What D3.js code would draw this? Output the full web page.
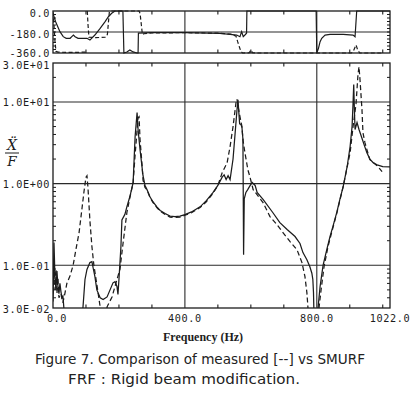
<!DOCTYPE html>
<html><head><meta charset="utf-8">
<script src="https://cdn.jsdelivr.net/npm/d3@7"></script>
<style>body{margin:0;background:#fff} svg{display:block}</style>
</head><body>
<svg id="c" width="418" height="399"></svg>
<script>
// ---------- data ----------
const freqLabelValues = [0, 400, 800, 1022];
const freqLabels = ["0.0", "400.0", "800.0", "1022.0"];
const freqGrid = [400, 800];
const freqMinor = [100, 200, 300, 500, 600, 700, 900, 1000];
const magLabelValues = [30, 10, 1, 0.1, 0.03];
const magLabels = ["3.0E+01", "1.0E+01", "1.0E+00", "1.0E-01", "3.0E-02"];
const magGrid = [10, 1, 0.1];
const phaseLabelValues = [0, -180, -360];
const phaseLabels = ["0.0", "-180.0", "-360.0"];
const phaseGrid = [-180];

// SMURF (solid) magnitude [Hz, |X''/F|]
const smurfMag = [[0,0.036],[3,0.19],[6,0.07],[9,0.05],[12,0.085],[15,0.055],[18,0.045],[21,0.06],[24,0.048],[27,0.04],[30,0.042],[33,0.03],[37,0.02],[88,0.02],
[91,0.031],[97,0.067],[103,0.089],[112,0.108],[118,0.111],[121,0.096],[127,0.073],[133,0.05],[143,0.04],[152,0.038],[164,0.041],[173,0.05],[182,0.061],[188,0.063],[194,0.055],[197,0.044],[200,0.067],[206,0.17],[209,0.36],[218,0.42],[224,0.52],[233,0.69],[243,1.03],[246,1.97],[249,3.76],[255,7.4],[258,4.6],[261,3.45],[264,2.6],[270,1.6],[273,1.25],[279,0.95],[285,0.85],[294,0.69],[303,0.6],[315,0.52],[325,0.47],[340,0.43],[355,0.4],[370,0.395],[385,0.4],[400,0.418],[420,0.45],[446,0.52],[465,0.62],[485,0.776],[500,0.95],[513,1.2],[519,1.28],[525,1.12],[531,1.25],[537,1.12],[546,2.0],[552,4.0],[558,8.0],[561,10.6],[563,8.0],[566,5.4],[570,5.3],[573,4.9],[576,3.5],[578,0.135],[580,0.65],[585,0.78],[591,0.85],[598,0.95],[604,1.03],[613,0.95],[619,0.78],[637,0.64],[667,0.44],[688,0.333],[710,0.274],[734,0.225],[749,0.185],[758,0.143],[770,0.117],[779,0.096],[785,0.08],[788,0.067],[790,0.046],[791,0.03],[793,0.02],[798,0.02],[804,0.031],[810,0.055],[819,0.1],[831,0.16],[840,0.225],[849,0.3],[861,0.45],[870,0.64],[880,0.92],[892,1.61],[901,2.84],[907,5.0],[910,9.8],[912,16.3],[914,8.0],[916,4.6],[922,5.6],[928,4.6],[937,3.6],[946,2.8],[952,2.39],[961,2.0],[971,1.8],[983,1.7],[1000,1.62],[1022,1.6]];

// Measured (dashed) magnitude
const measuredMag = [[0,0.045],[3,0.12],[6,0.05],[9,0.09],[12,0.045],[15,0.07],[18,0.04],[24,0.045],[30,0.035],[36,0.045],[42,0.06],[52,0.075],[61,0.1],[70,0.16],[79,0.25],[88,0.5],[94,0.8],[100,1.2],[103,1.25],[106,0.9],[112,0.35],[118,0.17],[124,0.1],[133,0.058],[143,0.031],[148,0.02],[160,0.02],[164,0.031],[179,0.041],[194,0.067],[203,0.089],[212,0.18],[224,0.44],[233,0.67],[243,1.03],[249,2.26],[255,4.5],[258,6.4],[261,6.6],[264,3.45],[270,1.71],[273,1.1],[279,0.9],[285,0.84],[294,0.68],[303,0.59],[315,0.51],[325,0.46],[340,0.42],[355,0.39],[370,0.385],[385,0.39],[400,0.41],[420,0.44],[446,0.51],[465,0.6],[485,0.76],[500,0.95],[513,1.36],[528,1.8],[537,2.84],[546,5.0],[555,9.8],[558,10.8],[561,9.0],[567,6.6],[573,5.0],[576,3.45],[582,2.4],[591,1.48],[597,1.22],[607,0.845],[637,0.585],[658,0.395],[679,0.315],[698,0.25],[719,0.195],[740,0.155],[755,0.108],[764,0.073],[770,0.046],[773,0.031],[776,0.02],[804,0.02],[807,0.031],[813,0.05],[822,0.096],[834,0.17],[849,0.29],[861,0.44],[880,0.92],[901,2.39],[910,5.0],[919,9.5],[925,22],[928,27],[931,18.8],[937,8.05],[940,4.2],[946,3.17],[952,2.6],[961,1.97],[986,1.61],[998,1.4]];

// SMURF (solid) phase [Hz, deg]
const smurfPhase = [[0,-20],[8,-92],[21,-177],[31,-220],[40,-234],[52,-234],[57,-220],[62,-206],[67,-220],[76,-234],[91,-234],[103,-234],[112,-249],[117,-234],[127,-206],[143,-149],[158,-91],[168,-49],[178,-20],[188,0],[212,0],[215,-360],[224,-351],[233,-334],[243,-351],[255,-360],[258,-360],[259,-189],[300,-185],[400,-185],[506,-191],[537,-200],[557,-206],[567,-220],[572,-177],[577,-220],[582,-206],[587,-191],[588,0],[798,0],[800,-360],[805,-320],[810,-263],[815,-234],[825,-206],[840,-200],[880,-200],[910,-206],[916,-220],[921,0],[1022,0]];

// Measured (dashed) phase; null = break
const measuredPhase = [[0,-10],[3,-120],[6,-260],[9,-345],[15,-352],[40,-355],[70,-355],[100,-352],[103,-360],[103.5,null],[104,0],[106,-110],[109,-225],[130,-228],[160,-225],[165,-200],[168,-100],[171,-5],[175,0],[261,0],[264,-20],[268,-120],[271,-200],[276,-195],[300,-188],[400,-186],[500,-190],[540,-198],[555,-215],[560,-263],[565,-306],[570,-349],[575,-360],[595,-358],[600,-334],[605,-358],[620,-360],[905,-360],[910,-349],[919,-291],[924,-334],[930,-360],[1000,-360]];

// ---------- layout ----------
const svg = d3.select("#c");
const L = 53, R = 390, phTop = 11, phBot = 53, mTop = 63, mBot = 308;
const x = d3.scaleLinear().domain([0, 1022]).range([L, R]);
const yM = d3.scaleLog().domain([0.03, 30]).range([mBot, mTop]);
const yP = d3.scaleLinear().domain([-360, 0]).range([phBot, phTop]);
const ink = "#1c1c1c", grid = "#2a2a2a";
const mono = "'DejaVu Sans Mono', monospace";

const defs = svg.append("defs");
defs.append("clipPath").attr("id", "cm").append("rect")
  .attr("x", L).attr("y", mTop).attr("width", R - L).attr("height", mBot - mTop);
defs.append("clipPath").attr("id", "cp").append("rect")
  .attr("x", L).attr("y", phTop - 1).attr("width", R - L).attr("height", phBot - phTop + 2);

function frame(t, b) {
  svg.append("rect").attr("x", L).attr("y", t).attr("width", R - L).attr("height", b - t)
    .attr("fill", "none").attr("stroke", ink).attr("stroke-width", 1.3);
  svg.append("g").selectAll("line").data(freqGrid).join("line")
    .attr("x1", d => x(d)).attr("x2", d => x(d)).attr("y1", t).attr("y2", b)
    .attr("stroke", grid).attr("stroke-width", 1.1);
  const g = svg.append("g").attr("stroke", ink).attr("stroke-width", 1.1);
  g.selectAll("line.t").data(freqMinor).join("line").attr("class", "t")
    .attr("x1", d => x(d)).attr("x2", d => x(d)).attr("y1", t).attr("y2", t + 3.5);
  g.selectAll("line.b").data(freqMinor).join("line").attr("class", "b")
    .attr("x1", d => x(d)).attr("x2", d => x(d)).attr("y1", b).attr("y2", b - 3.5);
}

// ----- phase panel -----
frame(phTop, phBot);
svg.append("g").selectAll("line").data(phaseGrid).join("line")
  .attr("x1", L).attr("x2", R).attr("y1", d => yP(d)).attr("y2", d => yP(d))
  .attr("stroke", grid).attr("stroke-width", 1.1);
const pt = d3.range(-330, 0, 30);
const pg = svg.append("g").attr("stroke", ink).attr("stroke-width", 1);
pg.selectAll("line.l").data(pt).join("line").attr("class", "l")
  .attr("x1", L).attr("x2", L + 3).attr("y1", d => yP(d)).attr("y2", d => yP(d));
pg.selectAll("line.r").data(pt).join("line").attr("class", "r")
  .attr("x1", R).attr("x2", R - 3).attr("y1", d => yP(d)).attr("y2", d => yP(d));
svg.append("g").selectAll("text").data(phaseLabelValues).join("text")
  .attr("x", 50).attr("y", (d, i) => yP(d) + (i === 2 ? 3.5 : 5.5)).attr("text-anchor", "end")
  .attr("font-family", mono).attr("font-size", 10.2).attr("letter-spacing", 0.6).attr("fill", ink)
  .text((d, i) => phaseLabels[i]);

const lineP = d3.line().defined(d => d[1] !== null).x(d => x(d[0])).y(d => yP(d[1]));
const gp = svg.append("g").attr("clip-path", "url(#cp)").attr("fill", "none").attr("stroke", ink).attr("stroke-width", 1.2);
gp.append("path").attr("d", lineP(smurfPhase));
gp.append("path").attr("d", lineP(measuredPhase)).attr("stroke-dasharray", "4,2.5");

// ----- magnitude panel -----
frame(mTop, mBot);
svg.append("g").selectAll("line").data(magGrid).join("line")
  .attr("x1", L).attr("x2", R).attr("y1", d => yM(d)).attr("y2", d => yM(d))
  .attr("stroke", grid).attr("stroke-width", 1.1);
const mt = yM.ticks().filter(d => d > 0.03 && d < 30 && magGrid.indexOf(d) < 0);
const mg = svg.append("g").attr("stroke", ink).attr("stroke-width", 1);
mg.selectAll("line.l").data(mt).join("line").attr("class", "l")
  .attr("x1", L).attr("x2", L + 3).attr("y1", d => yM(d)).attr("y2", d => yM(d));
mg.selectAll("line.r").data(mt).join("line").attr("class", "r")
  .attr("x1", R).attr("x2", R - 3).attr("y1", d => yM(d)).attr("y2", d => yM(d));
svg.append("g").selectAll("text").data(magLabelValues).join("text")
  .attr("x", 50).attr("y", (d, i) => yM(d) + (i === 0 ? 5.5 : 4.5)).attr("text-anchor", "end")
  .attr("font-family", mono).attr("font-size", 10.2).attr("letter-spacing", 0.6).attr("fill", ink)
  .text((d, i) => magLabels[i]);

const lineM = d3.line().x(d => x(d[0])).y(d => yM(d[1]));
const gm = svg.append("g").attr("clip-path", "url(#cm)").attr("fill", "none").attr("stroke", ink).attr("stroke-width", 1.25);
gm.append("path").attr("d", lineM(smurfMag));
gm.append("path").attr("d", lineM(measuredMag)).attr("stroke-dasharray", "5,3");

// x labels
svg.append("g").selectAll("text").data(freqLabelValues).join("text")
  .attr("x", (d, i) => x(d) + (i === 0 ? 4 : 0)).attr("y", 322).attr("text-anchor", "middle")
  .attr("font-family", mono).attr("font-size", 10.2).attr("letter-spacing", 0.6).attr("fill", ink)
  .text((d, i) => freqLabels[i]);

svg.append("text").attr("x", 203).attr("y", 341).attr("text-anchor", "middle")
  .attr("font-family", "'Liberation Serif', serif").attr("font-weight", "bold").attr("font-size", 12)
  .attr("fill", ink).text("Frequency (Hz)");

// y label  X-double-dot / F
const yl = svg.append("g").attr("fill", ink).attr("font-family", "'DejaVu Serif', serif").attr("font-style", "italic");
yl.append("text").attr("x", 12).attr("y", 150).attr("text-anchor", "middle").attr("font-size", 14).text("\u1E8C");
svg.append("line").attr("x1", 5).attr("x2", 19).attr("y1", 153).attr("y2", 153).attr("stroke", ink).attr("stroke-width", 1);
yl.append("text").attr("x", 12).attr("y", 166).attr("text-anchor", "middle").attr("font-size", 13.5).text("F");

// caption
const cap = svg.append("g").attr("fill", "#222").attr("font-family", "'DejaVu Sans', sans-serif").attr("font-size", 13.5);
cap.append("text").attr("x", 35).attr("y", 364).attr("textLength", 330).attr("lengthAdjust", "spacingAndGlyphs")
  .text("Figure 7. Comparison of measured [--] vs SMURF");
cap.append("text").attr("x", 68).attr("y", 384).attr("textLength", 232).attr("lengthAdjust", "spacingAndGlyphs")
  .text("FRF : Rigid beam modification.");
</script>
</body></html>
